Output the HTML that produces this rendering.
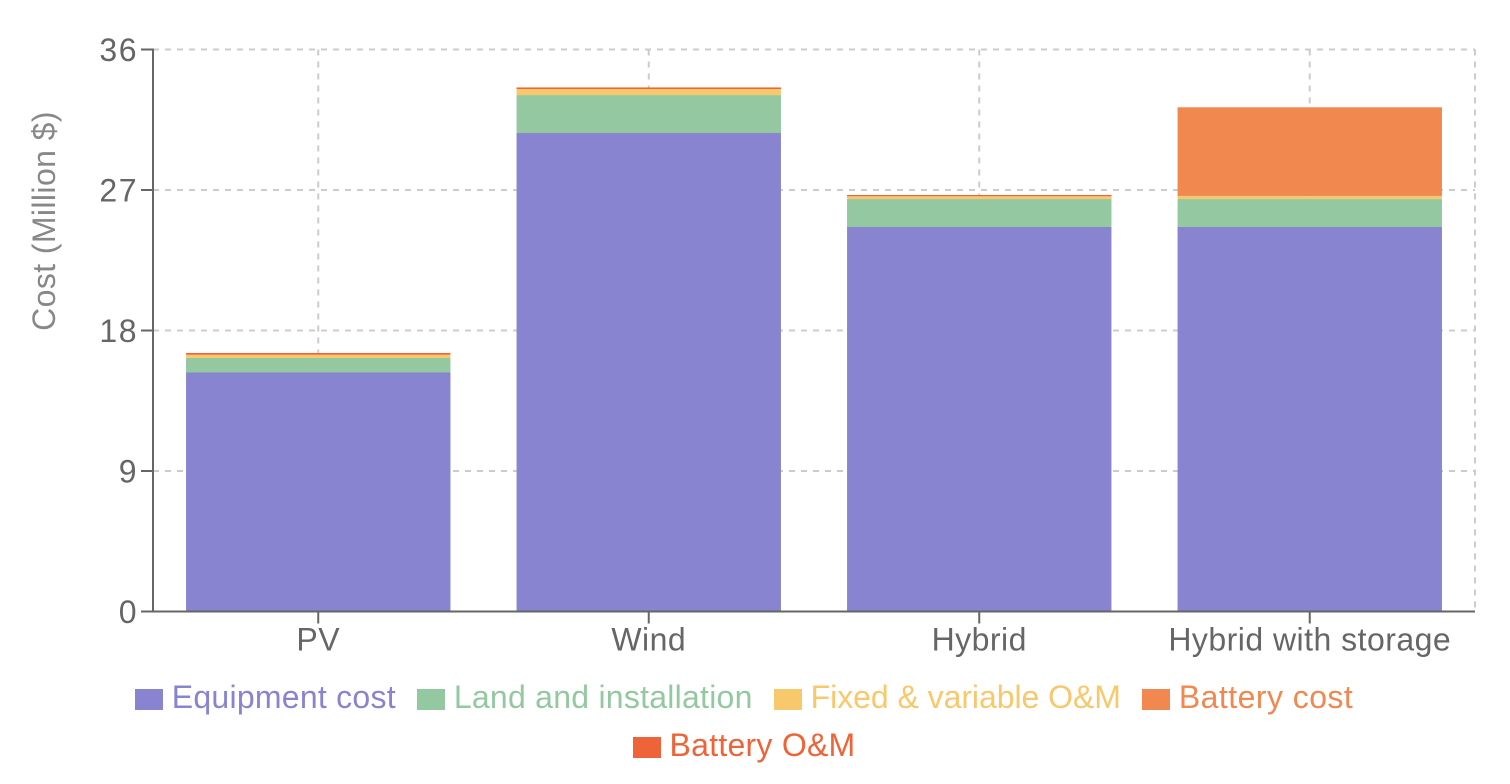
<!DOCTYPE html>
<html lang="en">
<head>
<meta charset="utf-8">
<title>Cost comparison</title>
<style>
  html, body { margin: 0; padding: 0; background: #fff; }
  body { width: 1510px; height: 784px; overflow: hidden; position: relative; font-family: "Liberation Sans", sans-serif; }
  svg { position: absolute; left: 0; top: 0; }
  svg text { font-family: "Liberation Sans", sans-serif; font-size: 32px; letter-spacing: 0.47px; }
  #legend { position: absolute; left: 100px; top: 673px; width: 1288px; display: flex; flex-wrap: wrap; justify-content: center; column-gap: 21px; }
  .item { display: flex; align-items: center; height: 48px; font-size: 32px; letter-spacing: 0.25px; white-space: nowrap; cursor: pointer; }
  .item:nth-child(3) { letter-spacing: -0.05px; }
  .item:nth-child(4) { letter-spacing: 0.45px; }
  .swatch { display: block; width: 28px; height: 21px; margin-right: 9px; position: relative; top: 2.8px; }
  .item-text { position: relative; top: 0; }
</style>
</head>
<body>
<svg id="chart" width="1510" height="784" viewBox="0 0 1510 784" xmlns="http://www.w3.org/2000/svg"></svg>
<div id="legend"></div>
<script>
const categories = ["PV", "Wind", "Hybrid", "Hybrid with storage"];
const yTicks = [0, 9, 18, 27, 36];
const seriesNames = ["Equipment cost", "Land and installation", "Fixed & variable O&M", "Battery cost", "Battery O&M"];
const seriesColors = ["#8884d0", "#93c8a0", "#f8c86c", "#f08850", "#ee6438"];
const equipmentCost = [15.31, 30.65, 24.63, 24.63];
const landAndInstallation = [0.93, 2.43, 1.79, 1.79];
const fixedVariableOM = [0.21, 0.39, 0.18, 0.20];
const batteryCost = [0, 0, 0, 5.68];
const batteryOM = [0.11, 0.10, 0.08, 0];
const seriesValues = [equipmentCost, landAndInstallation, fixedVariableOM, batteryCost, batteryOM];

const plotLeft = 153, plotRight = 1475, plotTop = 49.5, plotBottom = 611.5;
const yMax = yTicks[yTicks.length - 1];
const bandWidth = (plotRight - plotLeft) / categories.length;
const barWidth = bandWidth * 0.8;
const xCenter = i => plotLeft + bandWidth * (i + 0.5);
const yScale = v => plotBottom - (v / yMax) * (plotBottom - plotTop);

const svg = document.getElementById('chart');
function make(tag, attrs, parent) {
  const el = document.createElementNS('http://www.w3.org/2000/svg', tag);
  for (const k in attrs) el.setAttribute(k, attrs[k]);
  parent.appendChild(el);
  return el;
}

const grid = make('g', { stroke: '#cccccc', 'stroke-width': 2, 'stroke-dasharray': '6 6', fill: 'none' }, svg);


yTicks.forEach(t => {
  if (t === 0) return;
  const line = make('line', { x1: plotLeft, x2: plotRight, y1: yScale(t), y2: yScale(t) }, grid);
  
  
});
categories.forEach((c, i) => {
  const line = make('line', { x1: xCenter(i), x2: xCenter(i), y1: plotTop, y2: plotBottom }, grid);
  
  
});
const edge = make('line', { x1: plotRight, x2: plotRight, y1: plotTop, y2: plotBottom }, grid);



const bars = make('g', {}, svg);


categories.forEach((c, i) => {
  let running = 0;
  seriesValues.forEach((values, s) => {
    const v = values[i];
    const top = yScale(running + v);
    const bottom = yScale(running);
    running += v;
    if (v <= 0) return;
    const rect = make('rect', { x: xCenter(i) - barWidth / 2, y: top, width: barWidth, height: bottom - top, fill: seriesColors[s] }, bars);
    
    
  });
});

const yAxis = make('g', {}, svg);


const yLine = make('line', { x1: plotLeft, x2: plotLeft, y1: plotTop - 1, y2: plotBottom + 1, stroke: '#666666', 'stroke-width': 2 }, yAxis);


yTicks.forEach(t => {
  const mark = make('line', { x1: plotLeft - 12, x2: plotLeft, y1: yScale(t), y2: yScale(t), stroke: '#666666', 'stroke-width': 2 }, yAxis);
  
  
  const label = make('text', { x: plotLeft - 15, y: yScale(t) + 11.5, 'text-anchor': 'end', fill: '#666666', style: 'letter-spacing:1.5px' }, yAxis);
  
  
  label.textContent = t;
});
const yTitle = make('text', { x: 0, y: 0, transform: 'translate(55 221) rotate(-90)', 'text-anchor': 'middle', fill: '#888888', style: 'letter-spacing:0.4px' }, yAxis);


yTitle.textContent = 'Cost (Million $)';

const xAxis = make('g', {}, svg);


const xLine = make('line', { x1: plotLeft - 12, x2: plotRight, y1: plotBottom, y2: plotBottom, stroke: '#666666', 'stroke-width': 2 }, xAxis);


categories.forEach((c, i) => {
  const mark = make('line', { x1: xCenter(i), x2: xCenter(i), y1: plotBottom, y2: plotBottom + 12, stroke: '#666666', 'stroke-width': 2 }, xAxis);
  
  
  const label = make('text', { x: xCenter(i), y: 650.5, 'text-anchor': 'middle', fill: '#666666' }, xAxis);
  
  
  label.textContent = c;
});

const legend = document.getElementById('legend');
seriesNames.forEach((name, s) => {
  const item = document.createElement('div');
  item.className = 'item';
  item.style.color = seriesColors[s];
  
  
  const swatch = document.createElement('span');
  swatch.className = 'swatch';
  swatch.style.background = seriesColors[s];
  
  
  const text = document.createElement('span');
  text.className = 'item-text';
  text.textContent = name;
  
  
  item.appendChild(swatch);
  item.appendChild(text);
  legend.appendChild(item);
});
</script>
</body>
</html>
